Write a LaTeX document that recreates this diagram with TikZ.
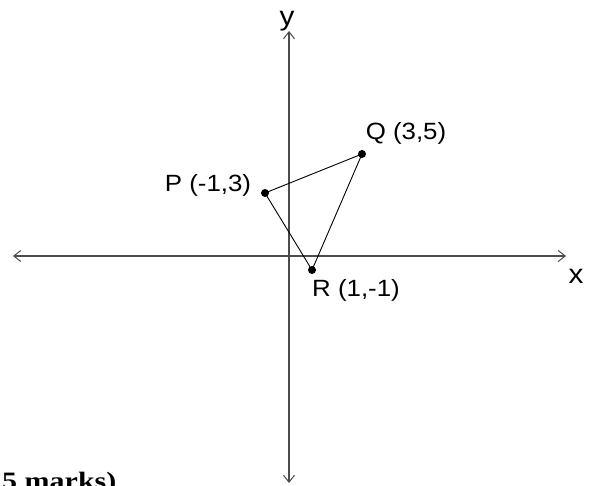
\documentclass[tikz,border=0pt]{standalone}
\usepackage{fontspec}
\setmainfont{Liberation Sans}
\newfontfamily\labfont[FakeStretch=1.1]{Liberation Sans}
\newfontfamily\markfont[FakeStretch=1.2]{Liberation Serif}
\usetikzlibrary{arrows.meta}
\begin{document}
\begin{tikzpicture}[x=1pt,y=-1pt,
  axis/.style={draw=black!70,line width=1.1pt,{Straight Barb[length=7pt,width=11pt,line width=1pt]}-{Straight Barb[length=7pt,width=11pt,line width=1pt]}},
  side/.style={draw=black,line width=0.9pt},
  pt/.style={circle,fill=black,inner sep=0pt,minimum size=8pt},
  lab/.style={font=\labfont\fontsize{23.5}{28}\selectfont,anchor=base,inner sep=0pt},
  axlab/.style={font=\labfont\fontsize{27}{31}\selectfont,anchor=base,inner sep=0pt}]
\useasboundingbox (0,0) rectangle (591,485);
\coordinate (xl) at (13,256);
\coordinate (xr) at (566,256);
\coordinate (yt) at (289,31);
\coordinate (yb) at (289,483);
\draw[axis] (xl) -- (xr);
\draw[axis] (yb) -- (yt);
\node[axlab] (ylab) at (287,25) {y};
\node[axlab] (xlab) at (576,283) {x};
\node[pt] (P) at (265,193) {};
\node[pt] (Q) at (362,154) {};
\node[pt] (R) at (312,270) {};
\draw[side] (P.center) -- (Q.center) -- (R.center) -- cycle;
\node[lab] (Pl) at (208,191.5) {P (-1,3)};
\node[lab] (Ql) at (406,139) {Q (3,5)};
\node[lab] (Rl) at (356,296.5) {R (1,-1)};
\node[font=\markfont\bfseries\fontsize{25}{29}\selectfont,anchor=base west,inner sep=0pt] (marks) at (2,489) {5 marks)};
\end{tikzpicture}
\end{document}
